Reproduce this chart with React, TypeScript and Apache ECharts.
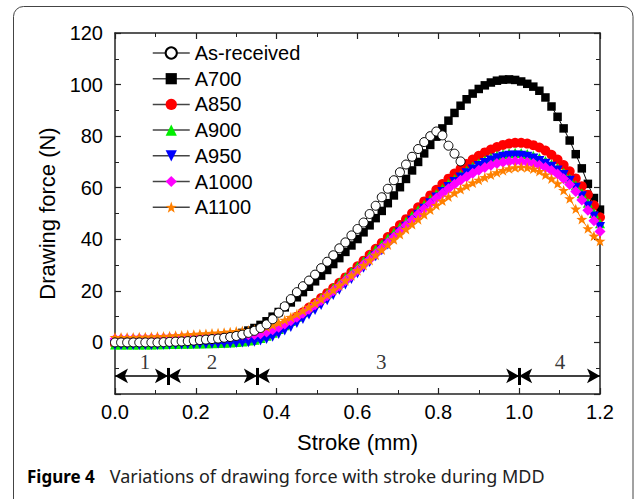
import React, { useEffect, useRef } from "react";
import * as echarts from "echarts";

const STROKE = [
  0, 0.015, 0.03, 0.045, 0.06, 0.075, 0.09, 0.105, 0.12, 0.135,
  0.15, 0.165, 0.18, 0.195, 0.21, 0.225, 0.24, 0.255, 0.27, 0.285,
  0.3, 0.315, 0.33, 0.345, 0.36, 0.375, 0.39, 0.405, 0.42, 0.435,
  0.45, 0.465, 0.48, 0.495, 0.51, 0.525, 0.54, 0.555, 0.57, 0.585,
  0.6, 0.615, 0.63, 0.645, 0.66, 0.675, 0.69, 0.705, 0.72, 0.735,
  0.75, 0.765, 0.78, 0.795, 0.81, 0.825, 0.84, 0.855, 0.87, 0.885,
  0.9, 0.915, 0.93, 0.945, 0.96, 0.975, 0.99, 1.005, 1.02, 1.035,
  1.05, 1.065, 1.08, 1.095, 1.11, 1.125, 1.14, 1.155, 1.17, 1.185,
  1.2,
];

const AS_RECEIVED = [
  0, 0, 0, 0, 0, 0, 0, 0, 0.1, 0.2,
  0.3, 0.4, 0.5, 0.7, 0.9, 1.1, 1.3, 1.5, 1.8, 2.1,
  2.5, 3.0, 3.7, 4.5, 5.6, 7.0, 9.0, 11.5, 14.0, 16.8,
  19.5, 21.8, 24.0, 26.3, 28.8, 31.3, 33.8, 36.5, 38.8, 41.5,
  44.0, 46.5, 49.8, 53.0, 56.3, 59.6, 62.9, 66.0, 69.0, 72.0,
  75.0, 77.7, 80.0, 81.8, 80.3, 76.3, 73.2, 70.2,
];

const A700 = [
  0, 0, 0, 0, 0, 0, 0, 0, 0.1, 0.2,
  0.3, 0.4, 0.5, 0.7, 0.9, 1.1, 1.4, 1.7, 2.0, 2.5,
  3.0, 3.7, 4.6, 5.6, 6.8, 8.2, 10.0, 11.8, 13.6, 15.5,
  17.5, 19.5, 21.6, 23.7, 25.9, 28.1, 30.4, 32.7, 35.1, 37.6,
  40.1, 42.7, 45.4, 48.2, 51.0, 54.0, 57.0, 60.2, 63.4, 66.7,
  70.0, 73.3, 76.6, 79.8, 83.0, 86.0, 89.0, 91.8, 94.3, 96.5,
  98.3, 99.7, 100.8, 101.5, 101.9, 102.0, 101.8, 101.2, 100.3, 99.2,
  97.6, 95.0, 91.5, 87.5, 83.0, 78.3, 73.0, 67.5, 61.5, 56.0,
  51.5,
];

const A850 = [
  -0.5, -0.5, -0.5, -0.5, -0.5, -0.5, -0.5, -0.4, -0.4, -0.3,
  -0.3, -0.2, -0.2, -0.1, -0.1, 0, 0, 0.1, 0.1, 0.2,
  0.3, 0.5, 0.7, 1.0, 1.7, 2.6, 3.8, 5.2, 6.7, 8.3,
  10.0, 11.7, 13.5, 15.3, 17.2, 19.1, 21.1, 23.1, 25.2, 27.3,
  29.5, 31.7, 34.0, 36.3, 38.6, 40.9, 43.2, 45.5, 47.8, 50.1,
  52.4, 54.7, 57.0, 59.2, 61.4, 63.5, 65.5, 67.4, 69.2, 70.9,
  72.4, 73.7, 74.8, 75.8, 76.6, 77.1, 77.4, 77.4, 77.1, 76.5,
  75.6, 74.4, 72.8, 70.9, 68.8, 66.4, 63.6, 60.6, 57.3, 53.2,
  48.5,
];

const A900 = [
  -0.8, -0.8, -0.8, -0.8, -0.8, -0.8, -0.8, -0.7, -0.7, -0.6,
  -0.6, -0.5, -0.5, -0.4, -0.4, -0.3, -0.3, -0.2, -0.1, 0,
  0.2, 0.4, 0.7, 1.0, 1.7, 2.6, 3.8, 5.2, 6.7, 8.3,
  10.0, 11.7, 13.5, 15.3, 17.2, 19.1, 21.1, 23.1, 25.2, 27.3,
  29.4, 31.5, 33.7, 35.9, 38.1, 40.3, 42.5, 44.7, 46.9, 49.1,
  51.3, 53.4, 55.5, 57.6, 59.6, 61.5, 63.3, 65.0, 66.6, 68.1,
  69.4, 70.6, 71.6, 72.4, 73.0, 73.4, 73.6, 73.5, 73.1, 72.4,
  71.5, 70.4, 69.1, 67.6, 65.8, 63.6, 61.0, 57.9, 54.2, 50.2,
  46.2,
];

const A950 = [
  -1, -1, -1, -1, -1, -1, -1, -1, -0.9, -0.9,
  -0.8, -0.8, -0.7, -0.7, -0.6, -0.6, -0.5, -0.5, -0.4, -0.3,
  -0.2, 0, 0.1, 0.3, 0.7, 1.3, 2.2, 3.3, 4.6, 6.0,
  7.5, 9.1, 10.8, 12.6, 14.5, 16.4, 18.4, 20.4, 22.5, 24.6,
  26.8, 29.0, 31.2, 33.4, 35.7, 38.0, 40.3, 42.6, 44.9, 47.2,
  49.5, 51.8, 54.0, 56.2, 58.3, 60.3, 62.2, 64.0, 65.6, 67.1,
  68.4, 69.6, 70.6, 71.4, 72.0, 72.4, 72.5, 72.4, 72.0, 71.3,
  70.4, 69.3, 68.1, 66.7, 64.9, 62.7, 60.0, 56.7, 52.8, 48.8,
  44.8,
];

const A1000 = [
  1.3, 1.3, 1.3, 1.3, 1.4, 1.4, 1.5, 1.5, 1.6, 1.7,
  1.8, 1.9, 2.0, 2.1, 2.2, 2.3, 2.4, 2.5, 2.6, 2.7,
  2.8, 2.9, 3.0, 3.1, 3.4, 4.0, 4.9, 5.9, 7.1, 8.4,
  9.8, 11.3, 12.9, 14.6, 16.3, 18.1, 20.0, 21.9, 23.9, 25.9,
  28.0, 30.1, 32.2, 34.3, 36.5, 38.7, 40.9, 43.1, 45.3, 47.5,
  49.7, 51.8, 53.9, 55.9, 57.8, 59.6, 61.3, 62.9, 64.3, 65.6,
  66.8, 67.8, 68.7, 69.4, 69.9, 70.2, 70.3, 70.2, 69.9, 69.4,
  68.7, 67.8, 66.7, 65.3, 63.5, 61.2, 58.5, 55.2, 51.3, 47.2,
  43.0,
];

const A1100 = [
  2.0, 2.0, 2.0, 2.0, 2.1, 2.1, 2.2, 2.3, 2.4, 2.5,
  2.7, 2.8, 3.0, 3.1, 3.3, 3.4, 3.6, 3.7, 3.9, 4.1,
  4.3, 4.5, 4.7, 5.0, 5.4, 6.0, 6.8, 7.7, 8.7, 9.8,
  11.0, 12.3, 13.7, 15.2, 16.8, 18.5, 20.3, 22.1, 24.0, 25.9,
  27.9, 29.9, 31.9, 33.9, 35.9, 37.9, 39.9, 41.9, 43.9, 45.8,
  47.7, 49.6, 51.4, 53.2, 54.9, 56.5, 58.0, 59.4, 60.7, 61.9,
  63.0, 64.0, 65.0, 65.9, 66.7, 67.4, 67.8, 68.0, 67.8, 67.3,
  66.4, 65.0, 63.5, 61.6, 59.0, 55.8, 51.8, 47.8, 44.2, 41.3,
  39.3,
];

const SERIES_NAMES = ["As-received", "A700", "A850", "A900", "A950", "A1000", "A1100"];

const ZONE_BOUNDS = [0, 0.131, 0.351, 1.0, 1.2];
const ZONE_LABELS = ["1", "2", "3", "4"];
const ZONE_LABEL_X = [0.074, 0.24, 0.659, 1.101];
const ZONE_LABEL_Y = -7.6;
const ARROW_Y = -13;
const BAR_Y = [-16.5, -9.9];

const STAR =
  "path://M0,-10 L2.35,-3.24 L9.51,-3.09 L3.8,1.24 L5.88,8.09 L0,4 L-5.88,8.09 L-3.8,1.24 L-9.51,-3.09 L-2.35,-3.24 Z";

const SANS = "'Liberation Sans', Arial, sans-serif";

function pairs(ys: number[]) {
  return ys.map((y, i) => [STROKE[i], y]);
}

function makeSeries(
  name: string,
  ys: number[],
  symbol: string,
  size: number,
  fill: string,
  line: string,
  z: number,
  extra: any = {}
) {
  return {
    name,
    type: "line",
    data: pairs(ys),
    symbol,
    symbolSize: size,
    showSymbol: true,
    showAllSymbol: true,
    symbolKeepAspect: true,
    itemStyle: { color: fill, borderWidth: 0 },
    lineStyle: { color: line, width: 1 },
    emphasis: { disabled: true },
    z,
    ...extra,
  };
}

export default function App() {
  const ref = useRef<HTMLDivElement>(null);

  useEffect(() => {
    if (!ref.current) return;
    const chart = echarts.init(ref.current, null, { renderer: "svg" });

    const arrowLines = ZONE_LABELS.map((_, i) => [
      { coord: [ZONE_BOUNDS[i], ARROW_Y] },
      { coord: [ZONE_BOUNDS[i + 1], ARROW_Y] },
    ]);
    const barLines = ZONE_BOUNDS.slice(1, 4).map((b) => [
      { coord: [b, BAR_Y[0]] },
      { coord: [b, BAR_Y[1]] },
    ]);

    const axisCommon = {
      axisLine: { show: true, onZero: false, lineStyle: { color: "#222", width: 1.5 } },
      axisTick: { show: true, inside: true, length: 6, lineStyle: { color: "#222", width: 1.2 } },
      minorTick: { show: true, splitNumber: 2, length: 4, lineStyle: { color: "#222", width: 1 } },
      splitLine: { show: false },
      minorSplitLine: { show: false },
    };

    const option: any = {
      animation: false,
      backgroundColor: "#fff",
      grid: { left: 115, right: 36, top: 33, bottom: 105 },
      legend: {
        data: SERIES_NAMES,
        orient: "vertical",
        left: 152,
        top: 43,
        padding: 0,
        itemWidth: 37,
        itemHeight: 14,
        itemGap: 5.7,
        selectedMode: false,
        textStyle: { fontFamily: SANS, fontSize: 20, color: "#000" },
        lineStyle: { color: "#444", width: 1.5, opacity: 1 },
      },
      xAxis: [
        {
          type: "value",
          min: 0,
          max: 1.2,
          interval: 0.2,
          position: "bottom",
          ...axisCommon,
          axisLabel: {
            formatter: (v: number) => v.toFixed(1),
            fontFamily: SANS,
            fontSize: 20,
            color: "#000",
            margin: 8,
          },
          name: "Stroke (mm)",
          nameLocation: "middle",
          nameGap: 37,
          nameTextStyle: { fontFamily: SANS, fontSize: 22, color: "#000" },
        },
        {
          type: "value",
          min: 0,
          max: 1.2,
          interval: 0.2,
          position: "top",
          ...axisCommon,
          axisLabel: { show: false },
        },
      ],
      yAxis: [
        {
          type: "value",
          min: -20,
          max: 120,
          interval: 20,
          position: "left",
          ...axisCommon,
          axisLabel: {
            formatter: (v: number) => (v < 0 ? "" : String(v)),
            fontFamily: SANS,
            fontSize: 20,
            color: "#000",
            margin: 12,
          },
          name: "Drawing force (N)",
          nameLocation: "middle",
          nameGap: 57,
          nameTextStyle: { fontFamily: SANS, fontSize: 22, color: "#000" },
        },
        {
          type: "value",
          min: -20,
          max: 120,
          interval: 20,
          position: "right",
          ...axisCommon,
          axisLabel: { show: false },
        },
      ],
      series: [
        makeSeries("A700", A700, "rect", 8.5, "#000", "#000", 2),
        makeSeries("A850", A850, "circle", 10, "#ff0000", "#ff0000", 3),
        makeSeries("A900", A900, "triangle", 10, "#00ee00", "#00ee00", 4),
        makeSeries("A950", A950, "triangle", 10, "#0000ff", "#0000ff", 5, { symbolRotate: 180 }),
        makeSeries("A1000", A1000, "diamond", 11, "#ff00ff", "#ff00ff", 6),
        makeSeries("A1100", A1100, STAR, 11, "#ff8000", "#ff8000", 7),
        {
          ...makeSeries("As-received", AS_RECEIVED, "circle", 9, "#fff", "#000", 8),
          itemStyle: { color: "#fff", borderColor: "#000", borderWidth: 1 },
        },
        {
          name: "zones",
          type: "line",
          data: [],
          silent: true,
          z: 9,
          markLine: {
            silent: true,
            symbol: ["arrow", "arrow"],
            symbolSize: [11, 13],
            label: { show: false },
            emphasis: { disabled: true },
            lineStyle: { color: "#000", width: 1.5, type: "solid" },
            data: arrowLines,
          },
        },
        {
          name: "bars",
          type: "line",
          data: [],
          silent: true,
          z: 9,
          markLine: {
            silent: true,
            symbol: ["none", "none"],
            label: { show: false },
            emphasis: { disabled: true },
            lineStyle: { color: "#000", width: 3, type: "solid" },
            data: barLines,
          },
        },
        {
          name: "zoneLabels",
          type: "scatter",
          silent: true,
          symbolSize: 0,
          z: 9,
          data: ZONE_LABEL_X.map((x) => [x, ZONE_LABEL_Y]),
          label: {
            show: true,
            position: "inside",
            formatter: (p: any) => ZONE_LABELS[p.dataIndex],
            fontFamily: "'Liberation Serif', 'Times New Roman', serif",
            fontSize: 21,
            color: "#000",
          },
        },
      ],
      graphic: [
        {
          type: "rect",
          silent: true,
          z: -1,
          shape: { x: 13.5, y: 6.5, width: 619.5, height: 520, r: 10 },
          style: { fill: "none", stroke: "#444", lineWidth: 1 },
        },
        {
          type: "text",
          silent: true,
          left: 27,
          top: 467,
          style: {
            text: "{b|Figure 4}{r|Variations of drawing force with stroke during MDD}",
            rich: {
              b: { fontFamily: "'Noto Sans', sans-serif", fontWeight: "bold", fontSize: 17, fill: "#000", padding: [0, 15, 0, 0] },
              r: { fontFamily: "'Noto Sans', sans-serif", fontSize: 18, fill: "#222" },
            },
          },
        },
      ],
    };

    chart.setOption(option);
    return () => chart.dispose();
  }, []);

  return (
    <div
      ref={ref}
      style={{ position: "fixed", left: 0, top: 0, width: 636, height: 499, background: "#fff" }}
    />
  );
}
